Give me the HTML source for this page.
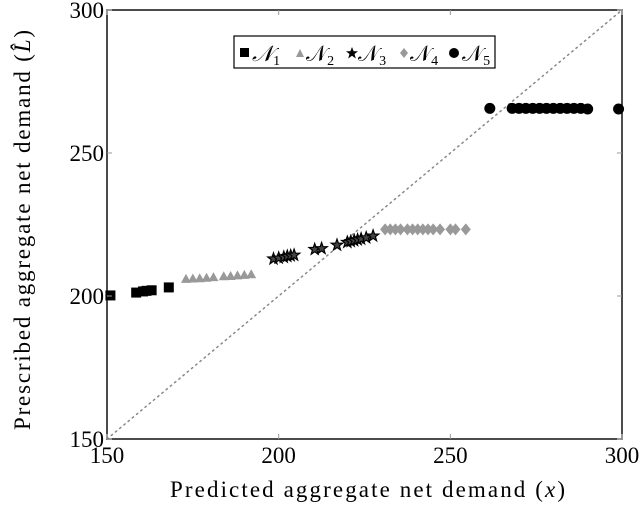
<!DOCTYPE html>
<html><head><meta charset="utf-8"><style>
body{margin:0;background:#fff}
svg text{font-family:"Liberation Serif",serif;fill:#000}
</style></head><body>
<svg id="chart" width="640" height="504">
<g id="marks"></g>
</svg>
<script>
const n1x=[151,158.5,160.5,161.5,163,168];
const n1y=[200.2,201.2,201.6,201.8,202,203];
const n2x=[173,175,177,179,181,184,186,188,190,192];
const n2y=[206,206.1,206.2,206.4,206.6,206.9,207,207.2,207.4,207.6];
const n3x=[198.5,200,201.5,202.5,203.5,204.5,210.5,212.5,217,220,221,222,223,224,225.5,227.5];
const n3y=[213,213.3,213.6,213.9,214.1,214.3,216.3,216.6,217.8,218.8,219.1,219.4,219.7,220,220.4,221];
const n4x=[231,232.5,234,235.5,237.5,239,240.5,242,243.5,245,247,250,251.5,254.5];
const n4y=[223.3,223.3,223.3,223.3,223.3,223.3,223.3,223.3,223.3,223.3,223.3,223.3,223.3,223.3];
const n5x=[261.5,268,270,272,274,276,278,280,282,284,286,288,290,299];
const n5y=[265.6,265.6,265.6,265.6,265.6,265.6,265.6,265.6,265.6,265.6,265.6,265.6,265.4,265.4];
const xTicks=[150,200,250,300];
const yTicks=[150,200,250,300];
const X0=107,X1=622,Y0=439,Y1=10;
const sx=v=>X0+(v-150)*(X1-X0)/150;
const sy=v=>Y0-(v-150)*(Y0-Y1)/150;
const NS="http://www.w3.org/2000/svg";
const svg=document.getElementById('chart');
const g=document.getElementById('marks');
function mk(t,a,p){const e=document.createElementNS(NS,t);for(const k in a)e.setAttribute(k,a[k]);(p||svg).appendChild(e);return e;}
const diag=mk('line',{x1:sx(150),y1:sy(150),x2:sx(300),y2:sy(300),stroke:'#888','stroke-width':1.5,'stroke-dasharray':'1.5,4','stroke-linecap':'round'},g);


function star(cx,cy,r){let p=[];for(let i=0;i<10;i++){const a=-Math.PI/2+i*Math.PI/5;const rr=i%2?r*0.4:r;p.push((cx+rr*Math.cos(a)).toFixed(1)+','+(cy+rr*Math.sin(a)).toFixed(1));}return p.join(' ');}
function draw(xs,ys,type,name){xs.forEach((v,i)=>{const x=sx(v),y=sy(ys[i]);let e;
if(type==='sq')e=mk('rect',{x:x-5,y:y-5,width:10,height:10,fill:'#000'},g);
else if(type==='tri')e=mk('polygon',{points:`${x-5},${y+4} ${x+5},${y+4} ${x},${y-5}`,fill:'#999'},g);
else if(type==='star')e=mk('polygon',{points:star(x,y,6),fill:'#444',stroke:'#000','stroke-width':1.2},g);
else if(type==='dia')e=mk('polygon',{points:`${x},${y-6} ${x+5},${y} ${x},${y+6} ${x-5},${y}`,fill:'#999'},g);
else e=mk('circle',{cx:x,cy:y,r:5.5,fill:'#000'},g);

});}
draw(n1x,n1y,'sq','n1-point');draw(n2x,n2y,'tri','n2-point');draw(n3x,n3y,'star','n3-point');draw(n4x,n4y,'dia','n4-point');draw(n5x,n5y,'circ','n5-point');
const fr=mk('rect',{x:X0,y:Y1,width:X1-X0,height:Y0-Y1,fill:'none',stroke:'#000','stroke-width':1.4});


xTicks.forEach(v=>{const x=sx(v);
mk('line',{x1:x,y1:Y0,x2:x,y2:Y0-5,stroke:'#999'});mk('line',{x1:x,y1:Y1,x2:x,y2:Y1+5,stroke:'#999'});
const t=mk('text',{x:x,y:Y0+24,'text-anchor':'middle','font-size':23});t.textContent=v;

});
yTicks.forEach(v=>{const y=sy(v);
mk('line',{x1:X0,y1:y,x2:X0+5,y2:y,stroke:'#999'});mk('line',{x1:X1,y1:y,x2:X1-5,y2:y,stroke:'#999'});
const t=mk('text',{x:X0-3,y:y+8,'text-anchor':'end','font-size':23});t.textContent=v;

});
</script>
<svg style="position:absolute;left:0;top:0" width="640" height="504">
<text x="170" y="497" font-size="23" textLength="395" lengthAdjust="spacing">Predicted aggregate net demand (<tspan font-style="italic">x</tspan>)</text>
<text transform="translate(30,430) rotate(-90)" font-size="23" textLength="400" lengthAdjust="spacing">Prescribed aggregate net demand (<tspan font-style="italic">L̂</tspan>)</text>
<g>
<rect x="234" y="36" width="261" height="32" fill="#fff" stroke="#000" stroke-width="1.2"/>
<rect x="240" y="48" width="9" height="9" fill="#000"/>
<text x="252" y="61" font-size="22" font-style="italic" font-family="DejaVu Serif,serif">𝒩<tspan font-size="14" font-style="normal" dy="4">1</tspan></text>
<polygon points="296,57 304,57 300,49" fill="#999"/>
<text x="306" y="61" font-size="22" font-family="DejaVu Serif,serif">𝒩<tspan font-size="14" dy="4">2</tspan></text>
<polygon points="352,47 353.6,51.3 358,51.3 354.5,54 355.8,58.5 352,55.8 348.2,58.5 349.5,54 346,51.3 350.4,51.3" fill="#000"/>
<text x="358" y="61" font-size="22" font-family="DejaVu Serif,serif">𝒩<tspan font-size="14" dy="4">3</tspan></text>
<polygon points="404,48 408,53 404,58 400,53" fill="#999"/>
<text x="410" y="61" font-size="22" font-family="DejaVu Serif,serif">𝒩<tspan font-size="14" dy="4">4</tspan></text>
<circle cx="454" cy="53" r="5" fill="#000"/>
<text x="462" y="61" font-size="22" font-family="DejaVu Serif,serif">𝒩<tspan font-size="14" dy="4">5</tspan></text>
</g>
</svg>
</body></html>
